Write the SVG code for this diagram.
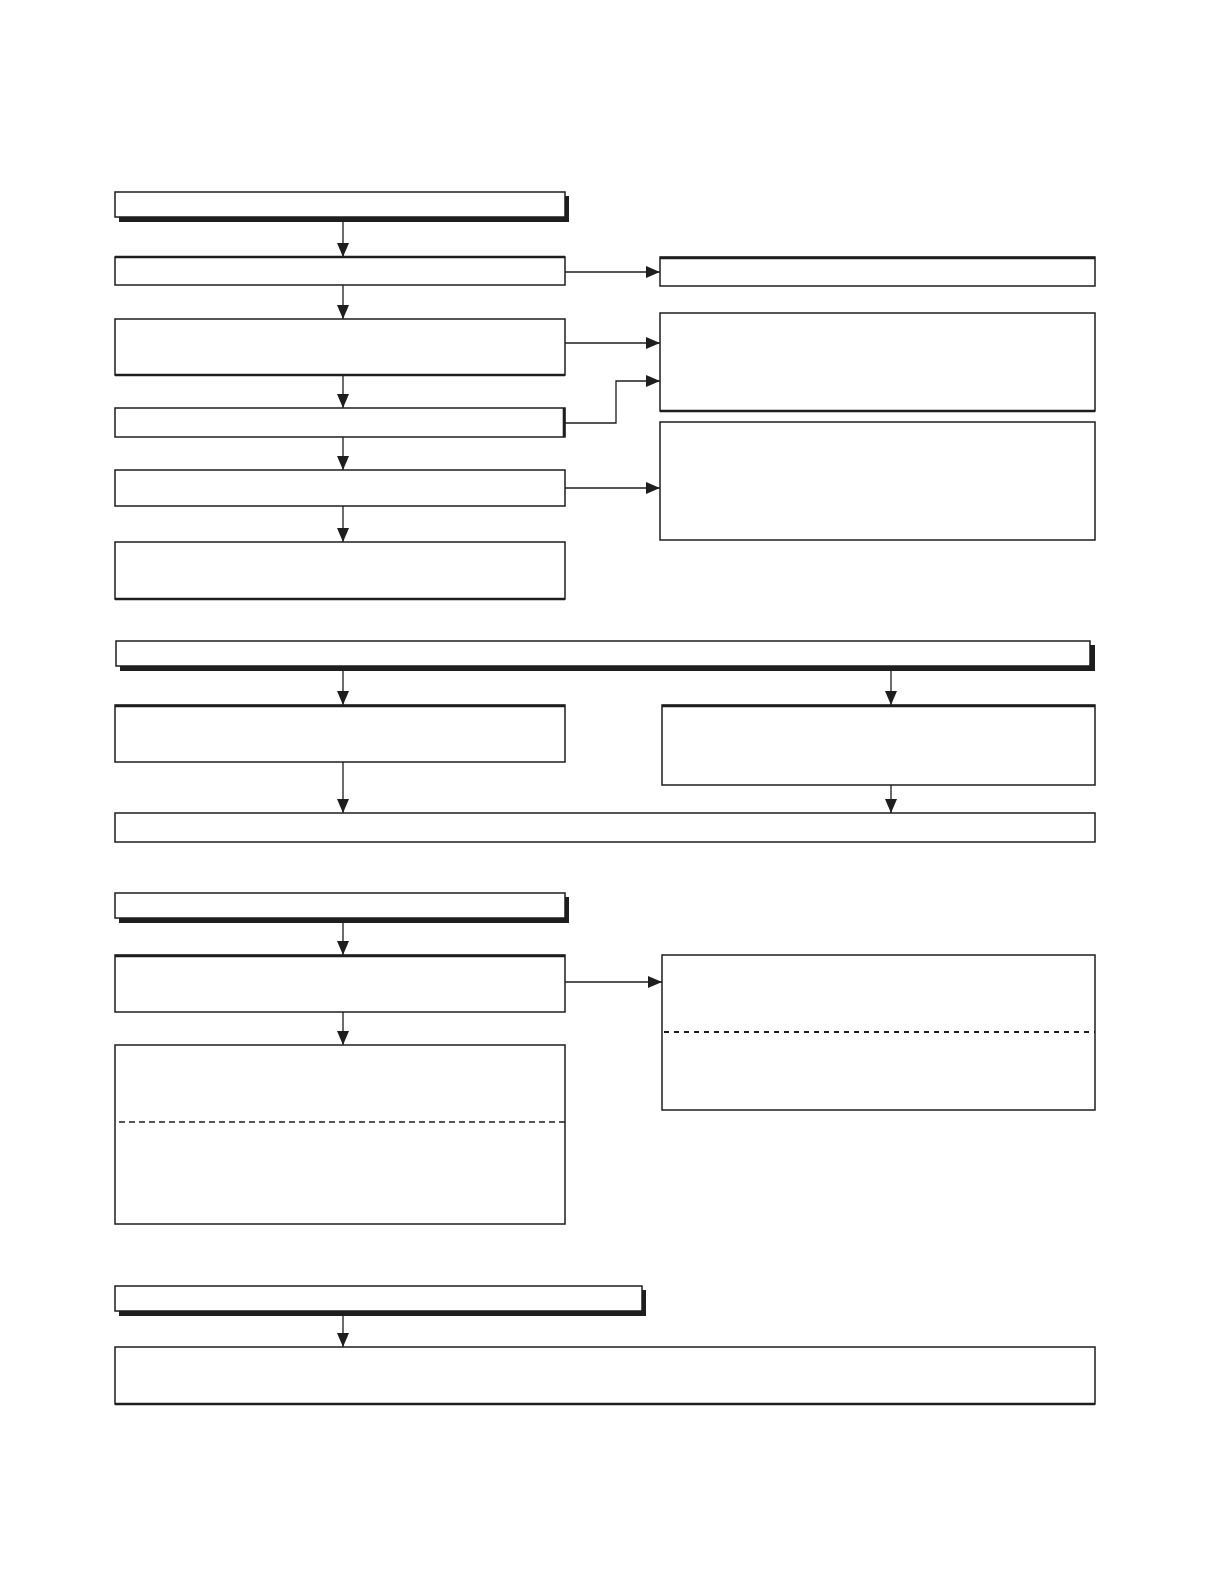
<svg xmlns="http://www.w3.org/2000/svg" width="1224" height="1584" viewBox="0 0 1224 1584">
<style>
.box{fill:#fff;stroke:#1e1e1e;stroke-width:1.5}
.shadow{fill:#1e1e1e;stroke:none}
.edge{stroke:#1e1e1e;stroke-width:2.6}
.conn{fill:none;stroke:#1e1e1e;stroke-width:1.3}
.dash1{stroke:#1e1e1e;stroke-width:1.3;stroke-dasharray:6 4}
.dash2{stroke:#1e1e1e;stroke-width:2.2;stroke-dasharray:5 5}
</style>
<defs>
<marker id="ah" viewBox="0 0 14 12" refX="14" refY="6" markerWidth="14" markerHeight="12" markerUnits="userSpaceOnUse" orient="auto">
<path d="M0,0 L14,6 L0,12 Z" fill="#1e1e1e"/>
</marker>
</defs>
<rect width="1224" height="1584" fill="#fff"/>

<g id="connectors">
<path class="conn" d="M343,221 V257" marker-end="url(#ah)"/>
<path class="conn" d="M565,272 H660" marker-end="url(#ah)"/>
<path class="conn" d="M343,285 V319" marker-end="url(#ah)"/>
<path class="conn" d="M565,343 H660" marker-end="url(#ah)"/>
<path class="conn" d="M343,375 V408" marker-end="url(#ah)"/>
<path class="conn" d="M565,423 H616 V381 H660" marker-end="url(#ah)"/>
<path class="conn" d="M343,437 V470" marker-end="url(#ah)"/>
<path class="conn" d="M565,488 H660" marker-end="url(#ah)"/>
<path class="conn" d="M343,506 V542" marker-end="url(#ah)"/>
<path class="conn" d="M343,670 V705" marker-end="url(#ah)"/>
<path class="conn" d="M891,670 V705" marker-end="url(#ah)"/>
<path class="conn" d="M343,762 V813" marker-end="url(#ah)"/>
<path class="conn" d="M891,785 V813" marker-end="url(#ah)"/>
<path class="conn" d="M343,922 V955" marker-end="url(#ah)"/>
<path class="conn" d="M565,982 H662" marker-end="url(#ah)"/>
<path class="conn" d="M343,1012 V1045" marker-end="url(#ah)"/>
<path class="conn" d="M343,1315 V1347" marker-end="url(#ah)"/>
</g>

<g id="header1">
<rect class="shadow" x="119" y="196" width="450" height="26"/>
<rect class="box" x="115" y="192" width="450" height="25"/>
</g>
<g id="box2"><rect class="box" x="115" y="257" width="450" height="28"/><line class="edge" x1="115" y1="257" x2="565" y2="257"/></g>
<g id="right1"><rect class="box" x="660" y="257" width="435" height="29"/><line class="edge" x1="660" y1="258" x2="1095" y2="258"/></g>
<g id="box3"><rect class="box" x="115" y="319" width="450" height="56"/><line class="edge" x1="115" y1="375" x2="565" y2="375"/></g>
<g id="right2"><rect class="box" x="660" y="313" width="435" height="98"/><line class="edge" x1="660" y1="411" x2="1095" y2="411"/></g>
<g id="box4"><rect class="box" x="115" y="408" width="450" height="29"/><line class="edge" x1="564" y1="408" x2="564" y2="437"/></g>
<g id="box5"><rect class="box" x="115" y="470" width="450" height="36"/></g>
<g id="right3"><rect class="box" x="660" y="422" width="435" height="118"/></g>
<g id="box6"><rect class="box" x="115" y="542" width="450" height="57"/><line class="edge" x1="115" y1="599" x2="565" y2="599"/></g>

<g id="header2">
<rect class="shadow" x="120" y="645" width="975" height="26"/>
<rect class="box" x="116" y="641" width="974" height="25"/>
</g>
<g id="box2L"><rect class="box" x="115" y="705" width="450" height="57"/><line class="edge" x1="115" y1="706" x2="565" y2="706"/></g>
<g id="box2R"><rect class="box" x="662" y="705" width="433" height="80"/><line class="edge" x1="662" y1="706" x2="1095" y2="706"/></g>
<g id="box2B"><rect class="box" x="115" y="813" width="980" height="29"/></g>

<g id="header3">
<rect class="shadow" x="119" y="897" width="450" height="26"/>
<rect class="box" x="115" y="893" width="450" height="25"/>
</g>
<g id="box3A"><rect class="box" x="115" y="955" width="450" height="57"/><line class="edge" x1="115" y1="956" x2="565" y2="956"/></g>
<g id="box3R"><rect class="box" x="662" y="955" width="433" height="155"/><line class="dash2" x1="664" y1="1032" x2="1095" y2="1032"/></g>
<g id="box3B"><rect class="box" x="115" y="1045" width="450" height="179"/><line class="dash1" x1="119" y1="1122" x2="565" y2="1122"/></g>

<g id="header4">
<rect class="shadow" x="119" y="1290" width="527" height="26"/>
<rect class="box" x="115" y="1286" width="527" height="25"/>
</g>
<g id="box4A"><rect class="box" x="115" y="1347" width="980" height="57"/><line class="edge" x1="115" y1="1404" x2="1095" y2="1404"/></g>
</svg>
